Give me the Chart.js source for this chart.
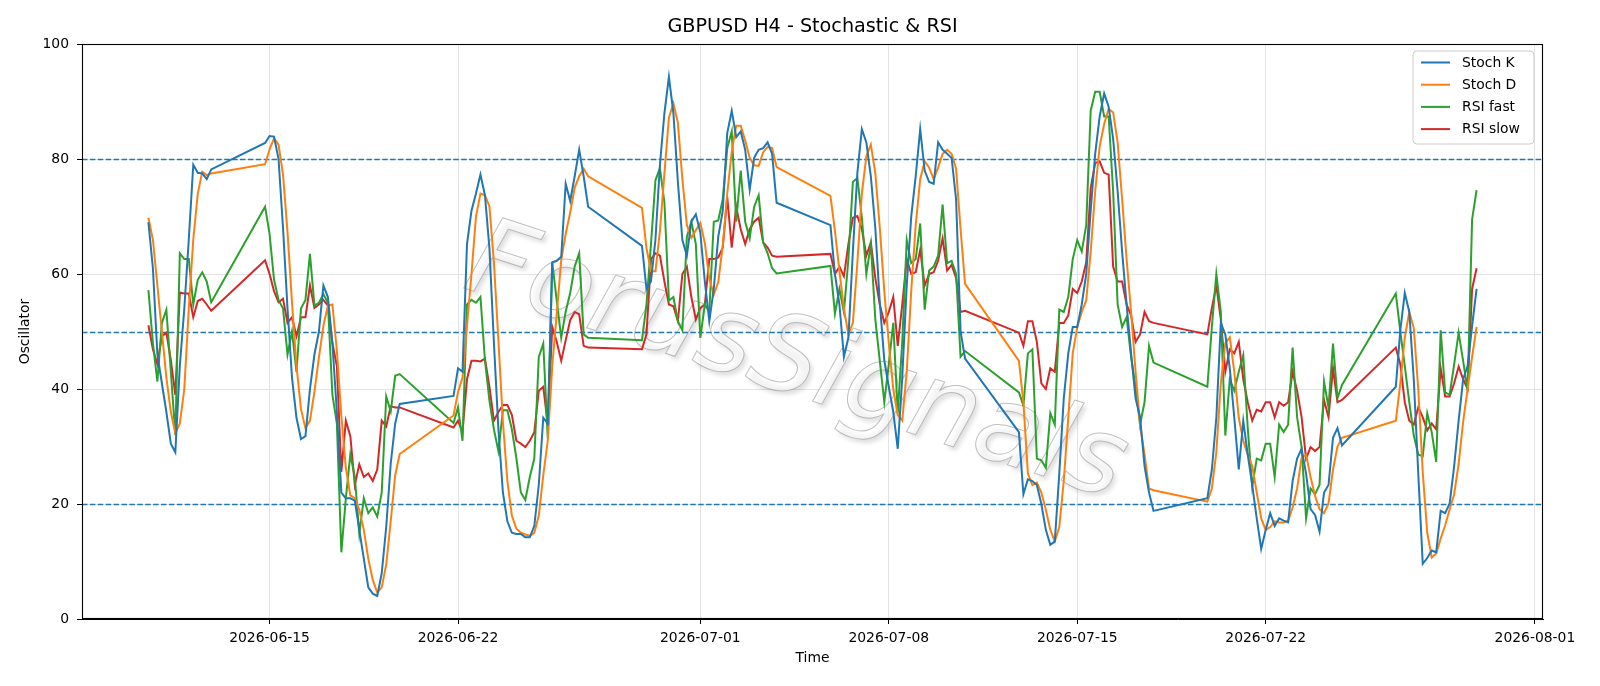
<!DOCTYPE html>
<html>
<head>
<meta charset="utf-8">
<script src="https://cdn.jsdelivr.net/npm/chart.js@4.4.1/dist/chart.umd.min.js"></script>
<style>
  html, body { margin: 0; padding: 0; background: #ffffff; }
  #wrap { width: 1600px; height: 686px; }
  canvas { display: block; }
</style>
</head>
<body>
<div id="wrap"><canvas id="c" width="1600" height="686"></canvas></div>
<script>
// ---------------- data ----------------
const chartTitle = "GBPUSD H4 - Stochastic & RSI";
const xLabel = "Time";
const yLabel = "Oscillator";
const watermarkText = "ForusSignals";

// H4 trading sessions: [first bar time (UTC), number of 4-hour bars]
const sessions = [
  ["2026-06-10T12:00:00Z", 15],
  ["2026-06-14T20:00:00Z", 31],
  ["2026-06-21T20:00:00Z", 31],
  ["2026-06-28T20:00:00Z", 31],
  ["2026-07-05T20:00:00Z", 31],
  ["2026-07-12T20:00:00Z", 31],
  ["2026-07-19T20:00:00Z", 31],
  ["2026-07-26T20:00:00Z", 19]
];

const xTickDates = ["2026-06-15", "2026-06-22", "2026-07-01", "2026-07-08", "2026-07-15", "2026-07-22", "2026-08-01"];
const yTicks = [0, 20, 40, 60, 80, 100];
const refLevels = [20, 50, 80];

const seriesNames = ["Stoch K", "Stoch D", "RSI fast", "RSI slow"];
const seriesColors = ["#1f77b4", "#ff7f0e", "#2ca02c", "#d62728"];

const stochK = [
  69, 61, 46, 41, 36, 30.5, 29, 44, 54, 66, 79, 77.6, 77.5, 76.5, 78.2,
  82.8, 84, 83.9, 80, 68, 54, 42, 35, 31.3, 31.8, 40, 46, 50, 58, 56, 48, 36, 22, 21, 21, 20.6, 15.5, 10.5, 5.5, 4.4, 4, 8, 16, 27, 34, 37.4,
  38.8, 43.6, 43, 65.2, 71, 74, 77.3, 73.7, 64.5, 48, 33, 22, 17, 15, 14.8, 14.8, 14.2, 14.2, 16.2, 23.3, 35, 34, 62, 62.3, 63, 75.7, 72.7, 77, 81.6, 77, 71.7,
  64.9, 57.4, 58.7, 66, 79, 88, 94.3, 88, 76, 65.9, 63.2, 69.1, 70.4, 67.2, 58.7, 51.8, 57.4, 66.5, 71, 84.5, 88.4, 83.8, 84.8, 81.6, 74.7, 80.2, 81.6, 81.9, 82.9, 80.9, 72.4,
  68.5, 60, 54.7, 45.6, 48.9, 63.9, 77.6, 85.2, 82.9, 77, 68, 55, 45, 40.4, 36, 29.6, 42, 58, 70, 77, 85.2, 78, 76, 75.7, 82.9, 81.6, 80.9, 80.2, 73, 50, 45.3,
  32.5, 21.7, 24.3, 24, 23.3, 20, 15.5, 12.9, 13.5, 25.3, 38.4, 46.2, 50.8, 50.8, 54.7, 60, 71.1, 80.9, 87.4, 91.4, 89.1, 83.5, 74.4, 63.9, 54.7, 46.2, 38.4, 35.1, 26.6, 22, 18.8,
  21, 26, 35, 51.5, 49.5, 43.6, 35, 26, 34.5, 28.6, 23.3, 17.5, 12.2, 15.5, 18.4, 16.2, 17.5, 17.1, 16.8, 24, 27.9, 29.6, 25.3, 19.1, 18.1, 15.2, 22, 23.3, 31.5, 33.2, 30.2,
  40.4, 50.2, 56.7, 53.4, 41.7, 25.3, 9.6, 10.6, 11.9, 11.6, 18.8, 18.4, 20.1, 26.6, 34.5, 41.7, 44, 51, 57.4
];

const stochD = [
  69.8, 66, 58, 50, 42, 36, 32.3, 34, 40, 54, 66, 74, 77.8, 77.2, 77.5,
  79.1, 81.7, 83.6, 82.5, 77.3, 67.3, 55, 44, 36.5, 33.2, 34.5, 39.5, 45.5, 51, 54.5, 54.7, 46.7, 35.3, 26.3, 21.5, 21, 19, 15.5, 10.5, 6.8, 4.6, 5.5, 9.5, 17, 25, 28.7,
  35.4, 39.5, 42, 51, 60, 70, 74, 73.7, 71.8, 62, 48.5, 34.3, 24, 18, 15.7, 15, 14.7, 14.5, 15, 18, 25, 31, 44, 53, 62.4, 67, 70.7, 75, 77, 78.3, 77,
  71.5, 64.5, 60.5, 60.5, 67.5, 77.5, 87.2, 89.7, 86.3, 76.5, 68.5, 66.3, 67.6, 68.9, 65.4, 59.2, 56.4, 58.6, 65, 74, 81.3, 85.8, 85.8, 83.2, 80.2, 78.9, 78.8, 81.2, 82.1, 81.9, 78.6,
  73.6, 67.5, 60.5, 54, 49.5, 51.5, 62, 74, 80.5, 82.5, 77.5, 68, 57, 48, 40, 35.5, 34.5, 43, 57, 68.5, 76.5, 79.6, 78.5, 76.5, 78.5, 80.9, 81.6, 80.9, 78.3, 67.8, 58.3,
  44.9, 37.7, 25.3, 23.3, 23.7, 22, 19, 15.5, 13.5, 16, 24, 35, 46.2, 50.8, 53.4, 55.4, 63.9, 74.4, 82.2, 86.1, 88.7, 88.1, 82.9, 73, 62.6, 53.4, 43, 33.8, 28.6, 22.7, 22.4,
  20.4, 22.7, 29, 41, 48, 49, 43, 35, 31, 28.6, 26.6, 22, 17.5, 15.5, 16, 17, 16.8, 16.8, 17.1, 19.4, 22.7, 28, 28.6, 24.7, 21.4, 19.1, 18.4, 20.1, 26, 30, 31.5,
  34.5, 41, 49, 53.4, 50.6, 40, 25.5, 15, 10.7, 11.4, 14, 16.3, 19.1, 21.7, 27, 34.3, 40, 45.6, 50.8
];

const rsiFast = [
  57.2, 48, 41.3, 51.5, 53.8, 43, 32, 63.6, 62.6, 62.6, 54.7, 59, 60.3, 58.7, 55.1,
  71.7, 67, 59, 55.5, 54, 46, 50, 43, 54, 55.5, 63.5, 54.5, 55, 56.5, 55, 39, 34, 11.6, 21, 28.6, 24.7, 14.8, 21, 18.4, 19.4, 17.8, 22, 38.7, 36.1, 42.3, 42.6,
  34.1, 36.8, 31, 54.7, 55.5, 55, 56, 45, 38, 33, 29.2, 36.3, 36.3, 33, 28, 22, 20.7, 24.7, 27.9, 45.6, 47.9, 31.5, 62, 55.4, 48.9, 53.5, 56.7, 61.3, 63.6, 49.5, 48.9,
  48.5, 54.7, 65.2, 76.3, 78.4, 72.4, 55.4, 56, 51.8, 50.2, 66.5, 69.1, 65.2, 48.9, 54.7, 53.4, 69.1, 69.3, 73, 81.9, 84.8, 69.1, 78, 69.1, 66.2, 71.7, 73.7, 65.5, 63.6, 61, 60.1,
  61.4, 53.1, 57.4, 53.4, 62.6, 76, 76.7, 69.8, 60, 65.2, 52.1, 44.9, 37.7, 44.3, 51.5, 35.8, 48.2, 65.9, 61.9, 62.6, 68.8, 53.8, 60.6, 61.3, 63.2, 72.1, 61.9, 62.3, 60, 45.6, 46.6,
  39.4, 37.1, 46.2, 46.9, 27.9, 27.6, 26.3, 35.8, 33.8, 53.8, 53.4, 56, 62.6, 65.9, 63.9, 68.5, 88.4, 91.7, 91.7, 87.4, 87.4, 74.4, 54.7, 50.8, 52.5, 45.6, 40.4, 33.8, 37.7, 47.5, 44.6,
  40.4, 50.8, 60, 53.4, 31.9, 41.7, 39.7, 43, 45.9, 33.2, 23, 27.9, 27.6, 30.5, 30.5, 24.7, 33.8, 32.5, 33.8, 47.2, 35.1, 29.9, 17.5, 22.7, 21.7, 23.3, 41.3, 36.8, 47.9, 38.4, 40.7,
  56.6, 50, 44, 37.7, 31.9, 28.6, 28.3, 35.8, 32.5, 27.3, 50.2, 39.4, 39, 44.3, 49.8, 44.9, 39.7, 69.5, 74.6
];

const rsiSlow = [
  51.1, 46.9, 44.3, 49.2, 49.8, 45, 39, 56.8, 56.6, 56.6, 52.5, 55.3, 55.7, 54.7, 53.6,
  62.4, 60, 57, 55.1, 55.7, 51.5, 52.5, 49.2, 52.5, 52.5, 58, 54.1, 54.7, 55.5, 54.5, 48, 44, 25.6, 34.5, 31.8, 23.3, 26.9, 24.7, 25.3, 24, 26, 34.5, 33.5, 37, 36.8, 36.8,
  33.3, 34.5, 32.5, 41.7, 44.9, 44.9, 44.8, 45.3, 40.4, 34.5, 36, 37.2, 37.2, 35.5, 31, 30.5, 29.9, 31, 32.5, 39.7, 40.4, 33.8, 50.8, 48.2, 44.9, 48.5, 52, 53.4, 53, 47.5, 47.2,
  46.9, 49.5, 62.6, 63.6, 63.2, 58.7, 54.7, 54.4, 51.8, 60, 61.3, 56, 52.1, 54.1, 54.7, 62.6, 62.6, 62.9, 64.6, 73.4, 64.6, 71.7, 67.8, 65.2, 67.8, 69.1, 69.8, 65.5, 64.6, 63.2, 63,
  63.5, 60, 61.3, 59.6, 65.2, 69.8, 70.1, 67.8, 63.2, 65.5, 59.3, 54.7, 51.5, 53.4, 56, 47.5, 54.7, 62.6, 60, 60.3, 64.2, 58, 60, 60.3, 62.3, 66.2, 60.6, 61.6, 59.3, 53.4, 53.6,
  49.8, 47.5, 51.8, 51.8, 48.2, 41, 40, 43.6, 43, 51.5, 51.5, 52.8, 57.4, 56.7, 58.7, 62, 75, 79.3, 79.6, 77.6, 77.3, 61.3, 58.7, 58.7, 54.7, 52.8, 48.2, 49.5, 53.4, 51.8, 51.5,
  49.5, 54.1, 58, 52.1, 43, 46.9, 46.2, 48.2, 41.7, 37.7, 34.5, 36.4, 36.1, 37.7, 37.7, 35.1, 37.7, 37.1, 37.7, 43, 39.7, 35.1, 27.9, 29.9, 29.2, 29.9, 38.1, 35.1, 43.6, 37.7, 38.1,
  47.2, 44.3, 37.7, 34.5, 33.8, 36.8, 35.1, 32.8, 34, 33, 43.6, 38.7, 38.7, 41, 43.9, 41.7, 40, 57.4, 61
];

// ---------------- build ----------------
const H4 = 4 * 3600 * 1000;
const times = [];
sessions.forEach(([start, n]) => {
  const t0 = Date.parse(start);
  for (let i = 0; i < n; i++) times.push(t0 + i * H4);
});
const tMin = times[0], tMax = times[times.length - 1];
const margin = (tMax - tMin) * 0.05;
const xTickValues = xTickDates.map(d => Date.parse(d + "T00:00:00Z"));

const seriesValues = [stochK, stochD, rsiFast, rsiSlow];
const datasets = seriesValues.map((vals, k) => ({
  label: seriesNames[k],
  data: times.map((t, i) => ({ x: t, y: vals[i] })),
  borderColor: seriesColors[k],
  backgroundColor: seriesColors[k],
  borderWidth: 2,
  pointRadius: 0,
  tension: 0,
  fill: false
}));

const FONT = "'DejaVu Sans', 'Liberation Sans', sans-serif";

const decor = {
  id: "decor",
  beforeDatasetsDraw(chart) {
    const { ctx, chartArea: a, scales: { y } } = chart;
    ctx.save();
    ctx.beginPath();
    ctx.rect(a.left, a.top, a.right - a.left, a.bottom - a.top);
    ctx.clip();
    // watermark
    ctx.save();
    ctx.translate(461, 287);
    ctx.rotate(18 * Math.PI / 180);
    ctx.font = "oblique 108px " + FONT;
    ctx.textAlign = "left";
    ctx.textBaseline = "alphabetic";
    ctx.shadowColor = "rgba(0,0,0,0.20)";
    ctx.shadowBlur = 4;
    ctx.shadowOffsetX = 3;
    ctx.shadowOffsetY = 4;
    ctx.fillStyle = "rgba(255,255,255,0.6)";
    ctx.fillText(watermarkText, 0, 0);
    ctx.shadowColor = "transparent";
    ctx.lineWidth = 1;
    ctx.strokeStyle = "rgba(150,150,150,0.6)";
    ctx.strokeText(watermarkText, 0, 0);
    ctx.restore();
    // reference levels
    ctx.strokeStyle = "#1f77b4";
    ctx.lineWidth = 1.5;
    ctx.setLineDash([5.5, 2.4]);
    refLevels.forEach(v => {
      const py = Math.round(y.getPixelForValue(v)) + 0.5;
      ctx.beginPath();
      ctx.moveTo(a.left, py);
      ctx.lineTo(a.right, py);
      ctx.stroke();
    });
    ctx.restore();
  },
  afterDraw(chart) {
    const { ctx, chartArea: a } = chart;
    ctx.save();
    // frame (all four spines)
    ctx.strokeStyle = "#000";
    ctx.lineWidth = 1.1;
    ctx.strokeRect(Math.round(a.left) + 0.5, Math.round(a.top) + 0.5,
                   Math.round(a.right - a.left) - 1, Math.round(a.bottom - a.top) - 1);
    // legend
    const bx = 1413, by = 51, bw = 121, bh = 93, r = 4;
    ctx.beginPath();
    ctx.moveTo(bx + r, by);
    ctx.arcTo(bx + bw, by, bx + bw, by + bh, r);
    ctx.arcTo(bx + bw, by + bh, bx, by + bh, r);
    ctx.arcTo(bx, by + bh, bx, by, r);
    ctx.arcTo(bx, by, bx + bw, by, r);
    ctx.closePath();
    ctx.fillStyle = "rgba(255,255,255,0.8)";
    ctx.fill();
    ctx.strokeStyle = "#cccccc";
    ctx.lineWidth = 1;
    ctx.stroke();
    ctx.font = "13.9px " + FONT;
    ctx.textBaseline = "middle";
    ctx.textAlign = "left";
    chart.data.datasets.forEach((ds, i) => {
      const ry = 62.5 + i * 22.2;
      ctx.strokeStyle = ds.borderColor;
      ctx.lineWidth = 2;
      ctx.beginPath();
      ctx.moveTo(1421, ry);
      ctx.lineTo(1450, ry);
      ctx.stroke();
      ctx.fillStyle = "#000";
      ctx.fillText(ds.label, 1462, ry + 0.5);
    });
    ctx.restore();
  }
};

new Chart(document.getElementById("c"), {
  type: "line",
  data: { datasets },
  plugins: [decor],
  options: {
    responsive: false,
    animation: false,
    devicePixelRatio: 1,
    parsing: true,
    layout: { padding: { left: 0, right: 57, top: 0, bottom: 0 } },
    plugins: {
      legend: { display: false },
      tooltip: { enabled: false },
      title: {
        display: true,
        text: chartTitle,
        fullSize: false,
        color: "#000",
        font: { family: FONT, size: 19.2, weight: "normal", lineHeight: 1.2 },
        padding: { top: 15, bottom: 6 }
      }
    },
    scales: {
      x: {
        type: "linear",
        min: tMin - margin,
        max: tMax + margin,
        afterBuildTicks(scale) { scale.ticks = xTickValues.map(v => ({ value: v })); },
        afterFit(scale) { scale.height = 67; },
        ticks: {
          autoSkip: false,
          maxRotation: 0,
          minRotation: 0,
          padding: 6,
          color: "#000",
          font: { family: FONT, size: 13.9 },
          callback: v => new Date(v).toISOString().slice(0, 10)
        },
        grid: { color: "#e3e3e3", lineWidth: 1, tickColor: "#000", tickLength: 5, drawTicks: true },
        border: { display: true, color: "#000", width: 1 },
        title: {
          display: true, text: xLabel, color: "#000",
          font: { family: FONT, size: 13.9, lineHeight: 1.2 },
          padding: { top: 2, bottom: 19.7 }
        }
      },
      y: {
        type: "linear",
        min: 0,
        max: 100,
        afterBuildTicks(scale) { scale.ticks = yTicks.map(v => ({ value: v })); },
        afterFit(scale) { scale.width = 82; },
        ticks: {
          padding: 8,
          color: "#000",
          font: { family: FONT, size: 13.9 }
        },
        grid: { color: "#e3e3e3", lineWidth: 1, tickColor: "#000", tickLength: 5, drawTicks: true },
        border: { display: true, color: "#000", width: 1 },
        title: {
          display: true, text: yLabel, color: "#000",
          font: { family: FONT, size: 13.9, lineHeight: 1.2 },
          padding: { top: 17, bottom: 0 }
        }
      }
    }
  }
});
</script>
</body>
</html>
